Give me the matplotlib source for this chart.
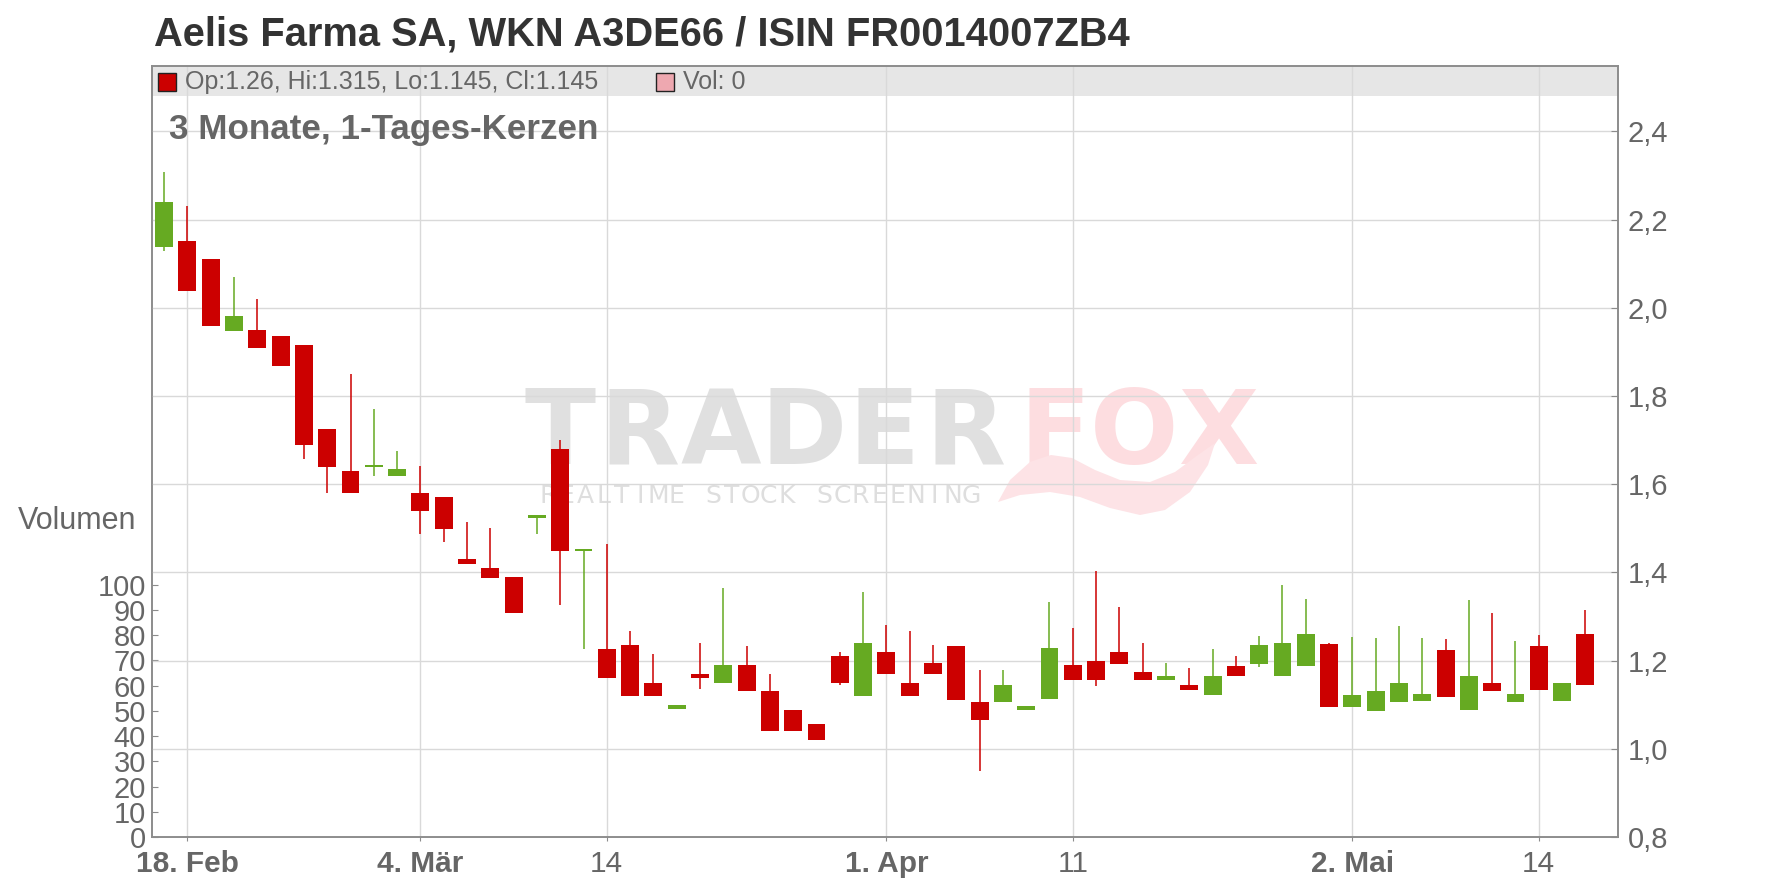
import matplotlib
matplotlib.use("Agg")
import matplotlib.pyplot as plt
from matplotlib.patches import Rectangle, Polygon

W, H = 1776, 888

# Handelstage (Euronext Paris), eine Kerze pro Tag
DAYS = ['2025-02-17', '2025-02-18', '2025-02-19', '2025-02-20', '2025-02-21',
        '2025-02-24', '2025-02-25', '2025-02-26', '2025-02-27', '2025-02-28',
        '2025-03-03', '2025-03-04', '2025-03-05', '2025-03-06', '2025-03-07',
        '2025-03-10', '2025-03-11', '2025-03-12', '2025-03-13', '2025-03-14',
        '2025-03-17', '2025-03-18', '2025-03-19', '2025-03-20', '2025-03-21',
        '2025-03-24', '2025-03-25', '2025-03-26', '2025-03-27', '2025-03-28',
        '2025-03-31', '2025-04-01', '2025-04-02', '2025-04-03', '2025-04-04',
        '2025-04-07', '2025-04-08', '2025-04-09', '2025-04-10', '2025-04-11',
        '2025-04-14', '2025-04-15', '2025-04-16', '2025-04-17', '2025-04-22',
        '2025-04-23', '2025-04-24', '2025-04-25', '2025-04-28', '2025-04-29',
        '2025-04-30', '2025-05-02', '2025-05-05', '2025-05-06', '2025-05-07',
        '2025-05-08', '2025-05-09', '2025-05-12', '2025-05-13', '2025-05-14',
        '2025-05-15', '2025-05-16']
OPEN = [2.138, 2.151, 2.110, 1.948, 1.949, 1.936, 1.915, 1.725, 1.630, 1.640,
        1.619, 1.580, 1.571, 1.430, 1.410, 1.389, 1.524, 1.680, 1.449, 1.227,
        1.236, 1.150, 1.090, 1.170, 1.149, 1.191, 1.132, 1.087, 1.057, 1.211,
        1.119, 1.220, 1.150, 1.195, 1.232, 1.107, 1.105, 1.089, 1.114, 1.191,
        1.200, 1.220, 1.175, 1.155, 1.145, 1.123, 1.188, 1.193, 1.164, 1.188,
        1.238, 1.094, 1.085, 1.105, 1.109, 1.225, 1.089, 1.150, 1.105, 1.234,
        1.109, 1.260]
HIGH = [2.309, 2.230, 2.110, 2.069, 2.020, 1.936, 1.915, 1.725, 1.850, 1.770,
        1.675, 1.642, 1.571, 1.514, 1.501, 1.389, 1.530, 1.700, 1.451, 1.465,
        1.266, 1.216, 1.100, 1.241, 1.365, 1.232, 1.170, 1.087, 1.057, 1.220,
        1.356, 1.281, 1.266, 1.236, 1.232, 1.179, 1.179, 1.096, 1.333, 1.274,
        1.403, 1.322, 1.240, 1.195, 1.184, 1.227, 1.211, 1.256, 1.371, 1.340,
        1.240, 1.254, 1.252, 1.279, 1.252, 1.249, 1.338, 1.308, 1.245, 1.258,
        1.150, 1.315]
LOW = [2.129, 2.038, 1.959, 1.948, 1.909, 1.869, 1.658, 1.579, 1.579, 1.619,
       1.619, 1.488, 1.470, 1.420, 1.388, 1.308, 1.488, 1.325, 1.226, 1.160,
       1.119, 1.119, 1.090, 1.135, 1.149, 1.130, 1.040, 1.040, 1.019, 1.144,
       1.119, 1.169, 1.119, 1.169, 1.110, 0.949, 1.105, 1.089, 1.114, 1.155,
       1.143, 1.193, 1.155, 1.155, 1.134, 1.123, 1.164, 1.186, 1.164, 1.188,
       1.094, 1.094, 1.085, 1.105, 1.109, 1.118, 1.089, 1.130, 1.105, 1.134,
       1.109, 1.145]
CLOSE = [2.239, 2.038, 1.959, 1.981, 1.909, 1.869, 1.690, 1.640, 1.579, 1.642,
         1.634, 1.540, 1.499, 1.420, 1.388, 1.308, 1.530, 1.449, 1.451, 1.160,
         1.119, 1.119, 1.100, 1.160, 1.191, 1.130, 1.040, 1.040, 1.019, 1.149,
         1.241, 1.169, 1.119, 1.169, 1.110, 1.065, 1.145, 1.096, 1.229, 1.155,
         1.155, 1.193, 1.155, 1.166, 1.134, 1.166, 1.164, 1.236, 1.240, 1.261,
         1.094, 1.121, 1.132, 1.150, 1.125, 1.118, 1.166, 1.130, 1.125, 1.134,
         1.150, 1.145]

TICK_DAYS = ['2025-02-18', '2025-03-04', '2025-03-14', '2025-04-01',
             '2025-04-11', '2025-05-02', '2025-05-14']
TICK_LABELS = ['18. Feb', '4. Mär', '14', '1. Apr', '11', '2. Mai', '14']
TICK_BOLD = [True, True, False, True, False, True, False]
PRICE_TICKS = [0.8, 1.0, 1.2, 1.4, 1.6, 1.8, 2.0, 2.2, 2.4]
PRICE_LABELS = ['0,8', '1,0', '1,2', '1,4', '1,6', '1,8', '2,0', '2,2', '2,4']
VOL_TICKS = [0, 10, 20, 30, 40, 50, 60, 70, 80, 90, 100]

TITLE = 'Aelis Farma SA, WKN A3DE66 / ISIN FR0014007ZB4'
SUBTITLE = '3 Monate, 1-Tages-Kerzen'
LEG_OHLC = 'Op:1.26, Hi:1.315, Lo:1.145, Cl:1.145'
LEG_VOL = 'Vol: 0'

UP, DOWN = '#66aa22', '#cc0000'
GRID, SPINE, TXT = '#d9d9d9', '#8c8c8c', '#666666'


def fx(px): return px / W
def fy(py): return 1 - py / H


plt.rcParams['font.family'] = ['Liberation Sans', 'DejaVu Sans']

fig = plt.figure(figsize=(W / 100, H / 100), dpi=100)
L, R, T, B = 152, 1618, 66, 837
ax = fig.add_axes([fx(L), fy(B), (R - L) / W, (B - T) / H])   # Volumen (links)
axp = ax.twinx()                                              # Kurs (rechts)

# Volumen-Achse: 0..100 nur im unteren Teil
ax.set_ylim(0, (B - T) / 2.525)
ax.set_yticks(VOL_TICKS)
ax.set_xlim(-0.52, 62.4)
axp.set_ylim(0.8, 0.8 + (B - T) / 441)
axp.set_yticks(PRICE_TICKS, PRICE_LABELS)

xt = [DAYS.index(d) for d in TICK_DAYS]
ax.set_xticks(xt, TICK_LABELS)
for lbl, b in zip(ax.get_xticklabels(), TICK_BOLD):
    lbl.set_fontweight('bold' if b else 'normal')

ax.grid(axis='x', color=GRID, lw=1, zorder=1.5)
axp.grid(axis='y', color=GRID, lw=1)
for a in (ax, axp):
    for s in a.spines.values():
        s.set_color(SPINE); s.set_linewidth(1.2)
ax.tick_params(axis='x', direction='out', length=3, color=SPINE, labelsize=21.5,
               labelcolor=TXT, pad=6)
ax.tick_params(axis='y', direction='in', length=4, color=SPINE, labelsize=21,
               labelcolor=TXT, pad=4.5)
axp.tick_params(axis='y', direction='in', length=5, color=SPINE, labelsize=21,
                labelcolor=TXT, pad=7)

# Kopfzeile (grau) + Wasserzeichen, hinter den Gitterlinien
ax.add_patch(Rectangle((0, 1 - 30 / (B - T)), 1, 30 / (B - T), transform=ax.transAxes,
                       facecolor='#e6e6e6', edgecolor='none', zorder=0.9))
ft = fig.transFigure
wm = [('T', 560, '#e0e0e0'), ('R', 640, '#e0e0e0'), ('A', 721, '#e0e0e0'),
      ('D', 804, '#e0e0e0'), ('E', 884, '#e0e0e0'), ('R', 966, '#e0e0e0'),
      ('F', 1055, '#fddde0'), ('O', 1134, '#fddde0'), ('X', 1218, '#fddde0')]
for ch, cx, col in wm:
    ax.text(fx(cx), fy(464), ch, transform=ft, fontsize=75, fontweight='bold',
            family='DejaVu Sans', color=col, va='baseline', ha='center', zorder=1)
sub = 'REALTIME STOCK SCREENING'
pitch = (980 - 539) / len(sub)
for i, ch in enumerate(sub):
    ax.text(fx(539 + pitch * (i + 0.5)), fy(503), ch, transform=ft, fontsize=18,
            family='DejaVu Sans', color='#dedede', va='baseline', ha='center', zorder=1)
tail = [(998, 502), (1010, 480), (1030, 462), (1051, 455), (1072, 458), (1095, 470),
        (1120, 480), (1150, 482), (1175, 472), (1198, 455), (1215, 443), (1208, 465),
        (1190, 492), (1165, 510), (1140, 515), (1110, 508), (1080, 497), (1050, 492),
        (1020, 495)]
ax.add_patch(Polygon([(fx(a), fy(b)) for a, b in tail], closed=True, transform=ft,
                     facecolor='#fde3e6', edgecolor='none', zorder=1))

# Kerzen
for i, (o, h, l, c) in enumerate(zip(OPEN, HIGH, LOW, CLOSE)):
    col = UP if c >= o else DOWN
    axp.vlines(i, l, h, color=col, lw=1.1, zorder=3)
    axp.bar(i, max(abs(c - o), 0.004), bottom=min(o, c), width=0.77, color=col,
            linewidth=0, zorder=4)

# Texte
fig.text(fx(154), fy(46), TITLE, fontsize=28.7, fontweight='bold', color='#333333',
         va='baseline', ha='left')
fig.text(fx(169), fy(139), SUBTITLE, fontsize=25.2, fontweight='bold', color=TXT,
         va='baseline', ha='left')
fig.text(fx(18), fy(521), 'Volumen', fontsize=22, color=TXT, va='center', ha='left')

fig.add_artist(Rectangle((fx(158), fy(91)), 18 / W, 18 / H, transform=ft,
                         facecolor=DOWN, edgecolor='#222222', lw=1))
fig.text(fx(185), fy(82), LEG_OHLC, fontsize=18, color=TXT, va='center', ha='left')
fig.add_artist(Rectangle((fx(656), fy(91)), 18 / W, 18 / H, transform=ft,
                         facecolor='#eea8b0', edgecolor='#222222', lw=1))
fig.text(fx(683), fy(82), LEG_VOL, fontsize=18, color=TXT, va='center', ha='left')

fig.savefig('out.png', dpi=100)
